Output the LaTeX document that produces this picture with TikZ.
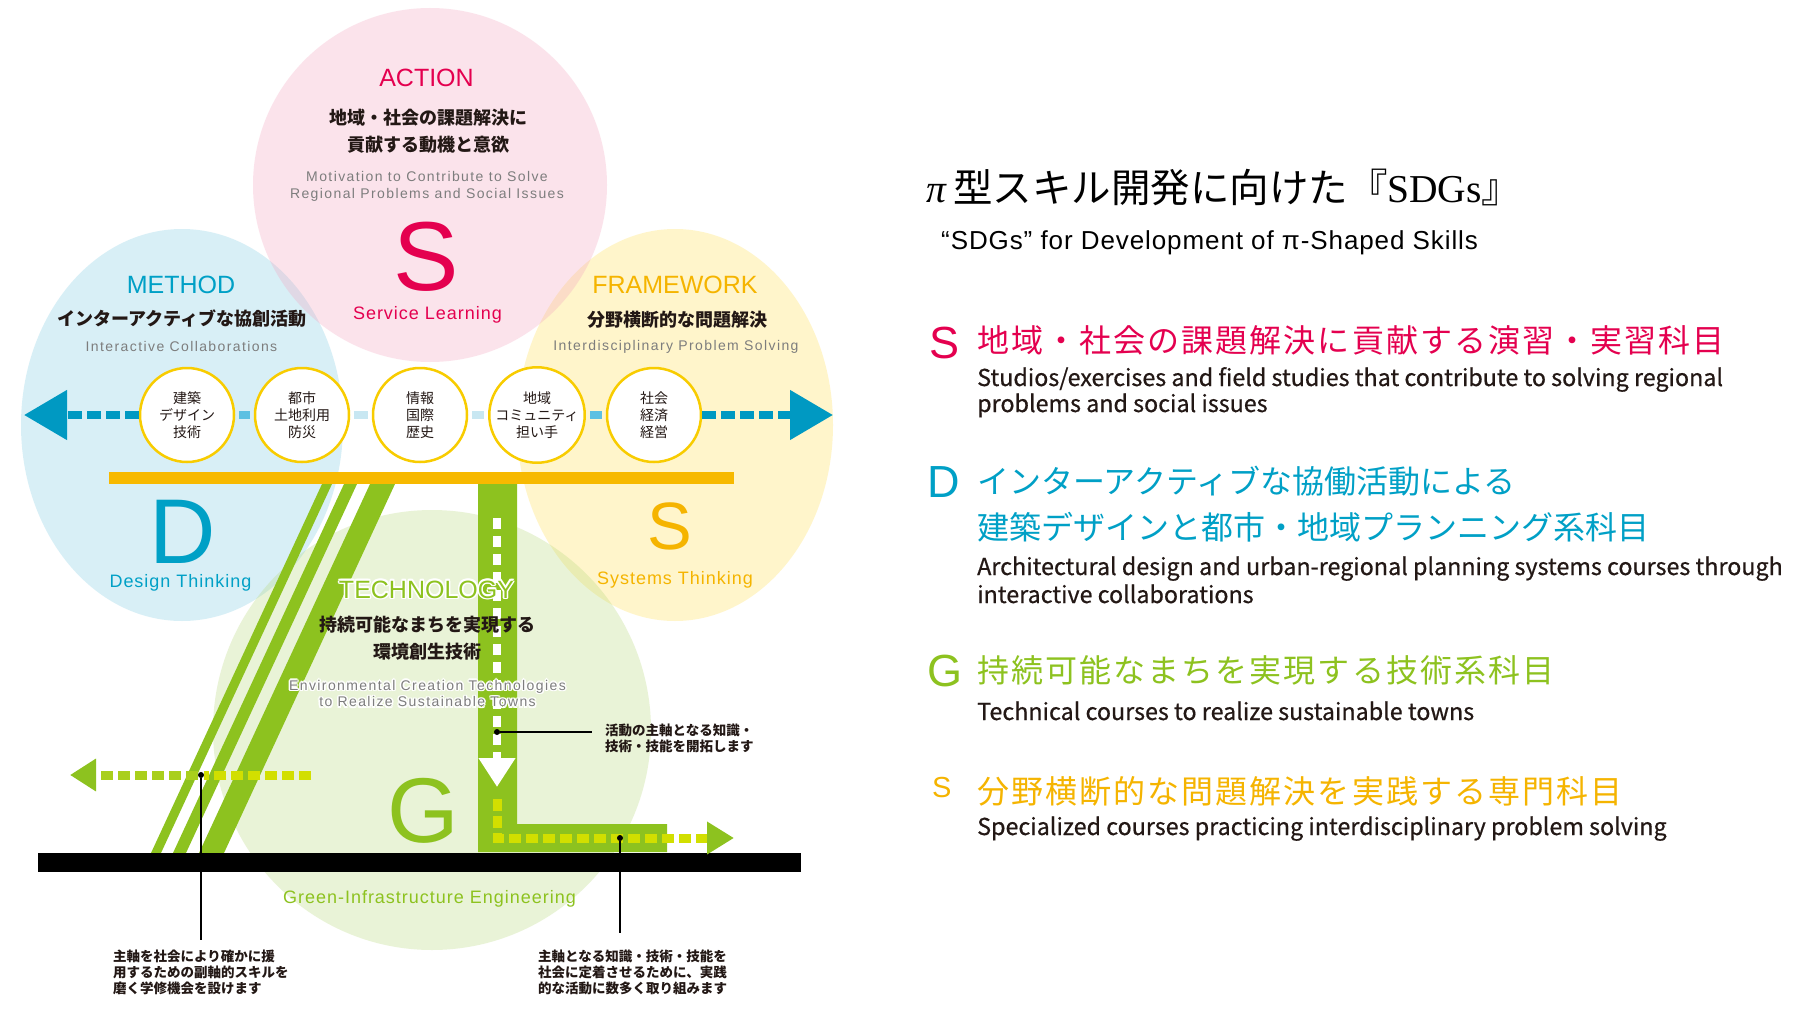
\documentclass[tikz,border=0pt]{standalone}
\usepackage{fontspec}
\usetikzlibrary{arrows.meta}
\setmainfont{Liberation Sans}
\newfontfamily\jp{Noto Sans CJK JP}
\newfontfamily\wsans{Liberation Sans}[LetterSpace=5.5]
\newfontfamily\gsans{Liberation Sans}[LetterSpace=10]
\newfontfamily\ssub{Liberation Sans}[LetterSpace=3.5]
\newfontfamily\tserif{Liberation Serif}

\definecolor{actred}{HTML}{E4004F}
\definecolor{methblue}{HTML}{00A0C6}
\definecolor{frameyel}{HTML}{F5B400}
\definecolor{techgreen}{HTML}{8DC21F}
\definecolor{barorange}{HTML}{F7B900}
\definecolor{arrowblue}{HTML}{0099C2}
\definecolor{midblue}{HTML}{5CC0E2}
\definecolor{paleblue}{HTML}{C8E7F2}
\definecolor{limegreen}{HTML}{D2DF00}
\definecolor{leafgreen}{HTML}{A9CF1C}
\definecolor{ringyel}{HTML}{F8CC00}
\definecolor{inkblack}{HTML}{231815}
\definecolor{textgray}{HTML}{7D7D7D}
\definecolor{pinkfill}{RGB}{245,165,192}
\definecolor{bluefill}{RGB}{128,205,228}
\definecolor{yelfill}{RGB}{255,225,85}
\definecolor{greenfill}{RGB}{185,218,125}

\begin{document}
\begin{tikzpicture}[x=1pt, y=-1pt,
		zone/.style={fill opacity=.3},
		head/.style={font=\fontsize{25}{25}\selectfont, anchor=base, inner sep=0pt},
		sublab/.style={font=\wsans\fontsize{18}{18}\selectfont, anchor=base, inner sep=0pt},
		bigl/.style={anchor=base, inner sep=0pt},
		jpbold/.style={font=\jp\bfseries\fontsize{18}{27}\selectfont, text=inkblack, align=center, inner sep=0pt},
		grayen/.style={font=\gsans\fontsize{14}{16.6}\selectfont, text=textgray, align=center, inner sep=0pt},
		skill/.style={circle, draw=ringyel, line width=2.5pt, fill=white, minimum size=94pt, inner sep=0pt,
			align=center, text=inkblack, font=\jp\fontsize{14}{17.3}\selectfont},
		bluedash/.style={draw=arrowblue, line width=8pt, dash pattern=on 14pt off 5pt},
		gapline/.style={line width=8pt, shorten <=4pt, shorten >=4pt},
		limedash/.style={draw=limegreen, line width=9pt, dash pattern=on 12pt off 5pt},
		dot/.style={circle, fill=black, inner sep=0pt, minimum size=6pt},
		lead/.style={draw=black, line width=1.1pt},
		note/.style={font=\jp\bfseries\fontsize{13.5}{16}\selectfont, text=inkblack, align=left, inner sep=0pt},
		rlet/.style={font=\fontsize{45}{45}\selectfont, anchor=base west, inner sep=0pt},
		rhead/.style={font=\jp\fontsize{32}{32}\selectfont, anchor=west, inner sep=0pt},
		rheadw/.style={rhead, font=\jp\fontsize{32}{32}\selectfont\addfontfeatures{LetterSpace=6.5}},
		rbody/.style={font=\jp\fontsize{23.3}{23.3}\selectfont\addfontfeatures{FakeBold=0.6}, text=inkblack,
			anchor=base west, inner sep=0pt},
		]
		\useasboundingbox (0,0) rectangle (1796,1014);
		\fill[white] (0,0) rectangle (1796,1014);

		% the four fields
		\fill[zone, bluefill] (182,425) ellipse [x radius=161pt, y radius=196pt];
		\fill[zone, yelfill] (675,425) ellipse [x radius=158pt, y radius=196pt];
		\fill[zone, greenfill] (432,730) ellipse [x radius=219pt, y radius=220pt];
		\fill[zone, pinkfill] (430,185) circle [radius=177pt];

		% pi shape
		\foreach \a/\w in {151/10, 173/13, 199/25}
			\fill[techgreen] (\a,853) -- ++(\w,0) -- ++(171,-369) -- ++(-\w,0) -- cycle;
		\fill[techgreen] (478,484) -- (517,484) -- (517,824) -- (667,824) -- (667,852) -- (478,852) -- cycle;
		\fill[barorange] (109,472) rectangle (734,484);
		\fill[black] (38,853) rectangle (801,872);

		% skill row
		\foreach \n/\x/\lbl in {1/187/{建築\\デザイン\\技術}, 2/302/{都市\\土地利用\\防災},
				3/420/{情報\\国際\\歴史}, 4/537/{地域\\コミュニティ\\担い手}, 5/654/{社会\\経済\\経営}}
			\node[skill] (c\n) at (\x,415) {\lbl};
		\coordinate (tipL) at (24,415);
		\coordinate (tipR) at (833,415);
		\draw[bluedash, -{Triangle[length=43pt, width=48pt]}] (c1.west) -- (tipL);
		\draw[bluedash, -{Triangle[length=43pt, width=48pt]}] (c5.east) -- (tipR);
		\draw[gapline, midblue] (c1.east) -- (c2.west);
		\draw[gapline, paleblue] (c2.east) -- (c3.west);
		\draw[gapline, paleblue] (c3.east) -- (c4.west);
		\draw[gapline, midblue] (c4.east) -- (c5.west);

		% main axis arrows
		\coordinate (wtop) at (497,518);
		\coordinate (wtip) at (497,787);
		\draw[white, line width=8pt, dash pattern=on 11pt off 7pt, -{Triangle[length=29pt, width=35pt]}] (wtop) -- (wtip);
		\coordinate (lstart) at (497,799);
		\coordinate (rtip) at (734,838);
		\draw[limedash, -{Triangle[length=27pt, width=31pt, color=techgreen]}] (lstart) |- (rtip);
		\node[dot] (d2) at (497,732) {};
		\node[dot] (d3) at (620,838) {};

		% sub axis arrow
		\node[dot] (d1) at (201,775) {};
		\coordinate (gstart) at (311,775);
		\coordinate (gtip) at (70,775);
		\draw[limedash] (gstart) -- (d1);
		\draw[limedash, draw=leafgreen, -{Triangle[length=26pt, width=31pt, color=techgreen]}] (d1) -- (gtip);

		% notes
		\node[note, anchor=north west] (n1) at (113,950) {主軸を社会により確かに援\\用するための副軸的スキルを\\磨く学修機会を設けます};
		\node[note, anchor=west] (n2) at (605,738.5) {活動の主軸となる知識・\\技術・技能を開拓します};
		\node[note, anchor=north west] (n3) at (538,950) {主軸となる知識・技術・技能を\\社会に定着させるために、実践\\的な活動に数多く取り組みます};
		\draw[lead, shorten >=10pt] (d1) -- (d1 |- n1.north);
		\draw[lead, shorten >=13pt] (d2) -- (d2 -| n2.west);
		\draw[lead, shorten >=17pt] (d3) -- (d3 |- n3.north);

		% ACTION
		\node[head, actred] (action) at (426.5,87) {ACTION};
		\node[jpbold] (actionjp) at (428,131.5) {地域・社会の課題解決に\\貢献する動機と意欲};
		\node[grayen] (actionen) at (427,186.6) {Motivation to Contribute to Solve\\Regional Problems and Social Issues};
		\node[bigl, actred, font=\fontsize{98}{98}\selectfont] (bigs) at (426,290) {S};
		\node[sublab, actred] (service) at (427.5,319) {Service Learning};

		% METHOD
		\node[head, methblue] (method) at (181,293) {METHOD};
		\node[jpbold] (methodjp) at (182,319) {インターアクティブな協創活動};
		\node[grayen, anchor=base] (methoden) at (181.5,351) {Interactive Collaborations};
		\node[bigl, methblue, font=\fontsize{92}{92}\selectfont] (bigd) at (183,563) {D};
		\node[sublab, methblue] (design) at (180.5,587) {Design Thinking};

		% FRAMEWORK
		\node[head, frameyel] (frame) at (675,293) {FRAMEWORK};
		\node[jpbold] (framejp) at (677,320) {分野横断的な問題解決};
		\node[grayen, anchor=base] (frameen) at (676,350) {Interdisciplinary Problem Solving};
		\node[bigl, frameyel, font=\fontsize{67}{67}\selectfont] (bigs2) at (670,549) {S};
		\node[sublab, frameyel] (systems) at (675,584) {Systems Thinking};

		% TECHNOLOGY, with a white halo where it lies on the bar
		\foreach \dx/\dy [count=\k] in {-1.6/0, 1.6/0, 0/-1.6, 0/1.6, -1.1/-1.1, 1.1/1.1, -1.1/1.1, 1.1/-1.1} {
			\node[head, white] (techhalo\k) at (426.5+\dx,598+\dy) {TECHNOLOGY};
			\node[grayen, white] (techenhalo\k) at (427.5+\dx,693.6+\dy) {Environmental Creation Technologies\\to Realize Sustainable Towns};
		}
		\node[head, techgreen] (tech) at (426.5,598) {TECHNOLOGY};
		\node[jpbold] (techjp) at (427.5,638.5) {持続可能なまちを実現する\\環境創生技術};
		\node[grayen] (techen) at (427.5,693.6) {Environmental Creation Technologies\\to Realize Sustainable Towns};
		\node[bigl, techgreen, font=\fontsize{92}{92}\selectfont] (bigg) at (423,842) {G};
		\node[sublab, techgreen] (ginfra) at (429.5,903) {Green-Infrastructure Engineering};

		% right column
		\node[anchor=west, inner sep=0pt, font=\jp\fontsize{39.5}{39.5}\selectfont] (title) at (926,187)
			{{\tserif\itshape π}\hspace{7pt}型スキル開発に向けた『{\tserif SDGs}』};
		\node[anchor=base west, inner sep=0pt, font=\ssub\fontsize{26}{26}\selectfont] (subtitle) at (941,249)
			{“SDGs” for Development of π-Shaped Skills};

		\node[rlet, actred] (ls) at (929,358) {S};
		\node[rheadw, actred] (lsjp) at (977,340) {地域・社会の課題解決に貢献する演習・実習科目};
		\node[rbody] (lsen1) at (977,386) {Studios/exercises and field studies that contribute to solving regional};
		\node[rbody] (lsen2) at (977,412) {problems and social issues};

		\node[rlet, methblue] (ld) at (927.5,497) {D};
		\node[rhead, methblue] (ldjp1) at (977,481) {インターアクティブな協働活動による};
		\node[rhead, methblue] (ldjp2) at (977,527) {建築デザインと都市・地域プランニング系科目};
		\node[rbody] (lden1) at (977,575) {Architectural design and urban-regional planning systems courses through};
		\node[rbody] (lden2) at (977,603) {interactive collaborations};

		\node[rlet, techgreen] (lg) at (927,686) {G};
		\node[rheadw, techgreen] (lgjp) at (977,670) {持続可能なまちを実現する技術系科目};
		\node[rbody] (lgen) at (977,720) {Technical courses to realize sustainable towns};

		\node[rlet, frameyel, font=\fontsize{29}{29}\selectfont] (ls2) at (932,797) {S};
		\node[rheadw, frameyel] (ls2jp) at (977,791) {分野横断的な問題解決を実践する専門科目};
		\node[rbody] (ls2en) at (977,835) {Specialized courses practicing interdisciplinary problem solving};
\end{tikzpicture}
\end{document}
